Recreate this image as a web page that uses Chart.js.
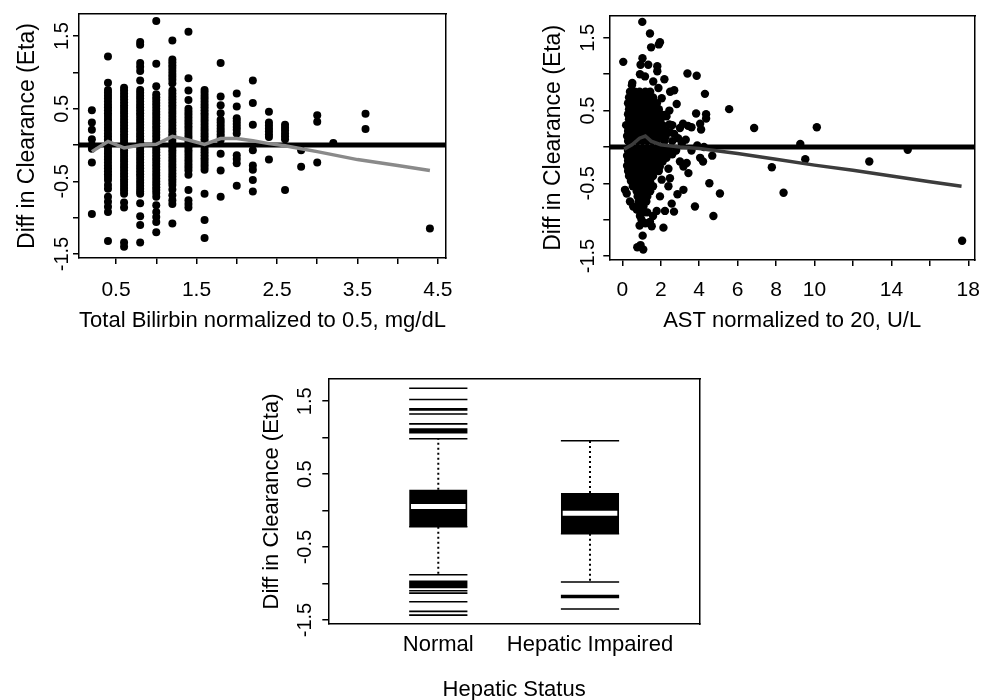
<!DOCTYPE html>
<html><head><meta charset="utf-8">
<script src="https://cdn.jsdelivr.net/npm/chart.js@4.4.0/dist/chart.umd.min.js"></script>
<style>
html,body{margin:0;padding:0;background:#fff;overflow:hidden;width:983px;height:700px;position:relative}
canvas{position:absolute;left:0;top:0}
</style></head><body>
<canvas id="c1" width="983" height="720"></canvas>
<canvas id="c2" width="983" height="720"></canvas>
<canvas id="c3" width="983" height="720"></canvas>
<script>
// ---------------- DATA ----------------
const Y_TITLE = 'Diff in Clearance (Eta)';
const ETA_TICKS = [-1.5, -1, -0.5, 0, 0.5, 1, 1.5];
const ETA_TICK_LABELS = ['-1.5', '', '-0.5', '', '0.5', '', '1.5'];

// Panel 1: Total bilirubin
const BILI_TITLE = 'Total Bilirbin normalized to 0.5, mg/dL';
const BILI_TICKS = [0.5, 1, 1.5, 2, 2.5, 3, 3.5, 4, 4.5];
const BILI_TICK_LABELS = ['0.5', '', '1.5', '', '2.5', '', '3.5', '', '4.5'];
const BILI_X = [0.2, 0.4, 0.6, 0.8, 1.0, 1.2, 1.4, 1.6, 1.8, 2.0, 2.2, 2.4, 2.6, 2.8, 3.0, 3.2, 3.6, 4.4];
const BILI_ETA = [
  [0.48,0.31,0.21,0.08,0.0,-0.05,-0.24,-0.95],
  [1.22,0.86,0.76,0.72,0.68,0.64,0.60,0.56,0.52,0.48,0.44,0.40,0.36,0.32,0.28,0.24,0.20,0.16,0.12,0.08,0.04,0.0,-0.04,-0.08,-0.12,-0.16,-0.20,-0.24,-0.28,-0.32,-0.36,-0.40,-0.44,-0.48,-0.55,-0.60,-0.71,-0.78,-0.85,-0.92,-1.32],
  [0.79,0.75,0.71,0.67,0.63,0.59,0.55,0.51,0.47,0.43,0.39,0.35,0.31,0.27,0.23,0.19,0.15,0.11,0.07,0.03,-0.03,-0.07,-0.11,-0.15,-0.19,-0.23,-0.27,-0.31,-0.35,-0.39,-0.43,-0.47,-0.51,-0.55,-0.59,-0.63,-0.67,-0.79,-0.86,-1.34,-1.40],
  [1.42,1.38,1.13,1.08,1.02,0.89,0.76,0.72,0.68,0.64,0.60,0.56,0.52,0.48,0.44,0.40,0.36,0.32,0.28,0.24,0.20,0.16,0.12,0.08,0.04,0.0,-0.04,-0.08,-0.12,-0.16,-0.20,-0.24,-0.28,-0.32,-0.36,-0.40,-0.44,-0.48,-0.52,-0.56,-0.60,-0.64,-0.67,-0.80,-0.98,-1.10,-1.34],
  [1.71,1.12,0.81,0.70,0.66,0.62,0.58,0.54,0.50,0.46,0.42,0.38,0.34,0.30,0.26,0.22,0.18,0.14,0.10,0.06,0.02,-0.02,-0.06,-0.10,-0.14,-0.18,-0.22,-0.26,-0.30,-0.34,-0.38,-0.42,-0.46,-0.50,-0.54,-0.58,-0.62,-0.66,-0.71,-0.83,-0.92,-0.99,-1.06,-1.20],
  [1.44,1.18,1.14,1.10,1.06,1.02,0.98,0.94,0.90,0.85,0.75,0.71,0.67,0.63,0.59,0.55,0.51,0.47,0.43,0.39,0.35,0.31,0.27,0.23,0.19,0.15,0.11,0.07,0.03,-0.03,-0.07,-0.11,-0.15,-0.19,-0.23,-0.27,-0.31,-0.35,-0.39,-0.43,-0.47,-0.51,-0.55,-0.61,-0.69,-0.76,-0.81,-1.08],
  [1.56,0.92,0.75,0.62,0.50,0.46,0.42,0.38,0.34,0.30,0.26,0.22,0.18,0.14,0.10,0.06,0.02,-0.03,-0.07,-0.11,-0.15,-0.19,-0.23,-0.27,-0.31,-0.35,-0.41,-0.62,-0.76,-0.81,-0.86],
  [0.76,0.72,0.68,0.64,0.60,0.56,0.52,0.48,0.44,0.40,0.36,0.32,0.28,0.24,0.20,0.16,0.12,0.08,0.04,-0.02,-0.06,-0.10,-0.14,-0.18,-0.22,-0.26,-0.30,-0.34,-0.67,-1.03,-1.28],
  [1.13,0.67,0.55,0.44,0.35,0.31,0.27,0.23,0.19,0.15,0.11,0.07,-0.12,-0.35,-0.71],
  [0.71,0.53,0.37,0.33,0.29,0.25,0.21,0.16,-0.14,-0.19,-0.25,-0.56],
  [0.89,0.58,0.28,-0.07,-0.28,-0.34,-0.48,-0.64],
  [0.46,0.31,0.27,0.23,0.19,0.15,0.11,-0.20],
  [0.28,0.24,0.20,0.16,0.12,0.08,-0.62],
  [-0.07,-0.30],
  [0.41,0.32,-0.24],
  [0.03],
  [0.43,0.22],
  [-1.15]
];
const BILI_SMOOTH_X = [0.2,0.4,0.6,0.8,1.0,1.2,1.4,1.6,1.8,2.0,2.2,2.4,2.6,2.8,3.0,3.5,4.0,4.4];
const BILI_SMOOTH_Y = [-0.09,0.05,-0.04,0.0,0.01,0.12,0.07,0.01,0.09,0.09,0.06,0.02,-0.01,-0.05,-0.09,-0.20,-0.28,-0.35];

// Panel 2: AST
const AST_TITLE = 'AST normalized to 20, U/L';
const AST_TICKS = [0, 2, 4, 6, 8, 10, 12, 14, 16, 18];
const AST_TICK_LABELS = ['0', '2', '4', '6', '8', '10', '', '14', '', '18'];
const AST_POINTS = [
  [0.5,0.85],
  [0.4,0.76],[0.65,0.76],[0.9,0.76],[1.2,0.76],[1.45,0.76],
  [0.35,0.68],[0.6,0.68],[0.85,0.68],[1.1,0.68],[1.35,0.68],[1.6,0.68],
  [0.3,0.6],[0.55,0.6],[0.8,0.6],[1.05,0.6],[1.3,0.6],[1.55,0.6],[1.8,0.6],
  [0.35,0.52],[0.6,0.52],[0.85,0.52],[1.1,0.52],[1.35,0.52],[1.6,0.52],[1.9,0.52],
  [0.3,0.45],[0.55,0.45],[0.8,0.45],[1.05,0.45],[1.3,0.45],[1.55,0.45],[1.75,0.45],[2.0,0.45],[2.2,0.44],
  [0.35,0.38],[0.6,0.38],[0.85,0.38],[1.1,0.38],[1.35,0.38],[1.6,0.38],[1.85,0.38],[2.0,0.38],
  [0.2,0.3],[0.45,0.3],[0.7,0.3],[0.95,0.3],[1.2,0.3],[1.45,0.3],[1.7,0.3],[1.95,0.3],[2.1,0.3],[2.45,0.31],
  [0.3,0.22],[0.55,0.22],[0.8,0.22],[1.05,0.22],[1.3,0.22],[1.55,0.22],[1.8,0.22],[2.05,0.22],[2.3,0.22],
  [0.25,0.15],[0.5,0.15],[0.75,0.15],[1.0,0.15],[1.25,0.15],[1.5,0.15],[1.75,0.15],[2.0,0.15],[2.25,0.14],
  [0.3,0.08],[0.55,0.08],[0.8,0.08],[1.05,0.08],[1.3,0.08],[1.55,0.08],[1.8,0.08],[2.2,0.08],[2.6,0.08],
  [0.3,-0.05],[0.55,-0.05],[0.8,-0.05],[1.05,-0.05],[1.3,-0.05],[1.55,-0.05],[1.8,-0.05],[2.1,-0.05],[2.4,-0.05],
  [0.25,-0.12],[0.5,-0.12],[0.75,-0.12],[1.0,-0.12],[1.25,-0.12],[1.5,-0.12],[1.75,-0.12],[2.0,-0.12],[2.25,-0.1],
  [0.3,-0.19],[0.55,-0.19],[0.8,-0.19],[1.05,-0.19],[1.3,-0.19],[1.55,-0.19],[1.8,-0.19],
  [0.25,-0.26],[0.5,-0.26],[0.75,-0.26],[1.0,-0.26],[1.25,-0.26],[1.5,-0.26],[1.7,-0.26],[1.95,-0.27],
  [0.3,-0.33],[0.55,-0.33],[0.8,-0.33],[1.05,-0.33],[1.3,-0.33],[1.55,-0.33],[1.9,-0.33],
  [0.35,-0.4],[0.6,-0.4],[0.85,-0.4],[1.1,-0.4],[1.35,-0.4],[1.6,-0.4],
  [0.45,-0.47],[0.7,-0.47],[0.95,-0.47],[1.2,-0.47],[1.45,-0.47],
  [0.55,-0.54],[0.8,-0.54],[1.05,-0.54],[1.3,-0.54],[1.6,-0.54],
  [0.75,-0.61],[1.0,-0.61],[1.2,-0.61],[1.45,-0.61],
  [0.8,-0.68],[1.05,-0.68],[1.3,-0.68],
  [0.85,-0.75],[1.1,-0.75],[1.25,-0.75],
  [0.9,-0.82],[1.1,-0.82],[0.95,-0.9],[1.15,-0.9],
  [0.05,1.17],[1.04,1.72],[1.44,1.56],[1.5,1.37],[1.96,1.44],[1.9,1.41],[1.05,1.22],[0.95,1.13],[1.35,1.13],
  [1.82,1.11],[1.82,1.04],[0.92,1.0],[1.18,0.97],[3.39,1.01],[3.87,0.98],[0.52,0.88],[1.61,0.9],[2.19,0.93],
  [1.88,0.81],[2.7,0.78],[2.49,0.76],[4.3,0.73],[2.05,0.67],[2.83,0.59],[5.56,0.52],[2.45,0.5],[3.84,0.46],
  [4.36,0.45],[4.36,0.39],[3.16,0.32],[3.42,0.29],[4.05,0.32],[6.86,0.26],[10.12,0.27],[2.3,0.42],[2.6,0.3],
  [3.0,0.26],[3.6,0.27],[4.1,0.24],[2.9,0.12],[3.3,0.1],[2.7,0.18],[2.5,0.2],[3.1,0.05],[4.25,0.0],[9.26,0.04],[3.9,0.02],
  [0.14,-0.59],[0.23,-0.64],[0.4,-0.75],[0.57,-0.82],[0.75,-0.86],[0.92,-0.95],[1.0,-1.0],[1.06,-1.22],
  [0.78,-1.38],[1.09,-1.41],[0.95,-1.35],[1.44,-1.03],[1.53,-1.09],[2.14,-1.11],[1.79,-0.88],[2.22,-0.88],
  [2.69,-0.89],[2.57,-0.78],[2.87,-0.65],[3.18,-0.59],[2.4,-0.54],[1.96,-0.68],[2.05,-0.45],[2.48,-0.43],
  [3.35,-0.22],[3.44,-0.36],[3.18,-0.27],[3.0,-0.2],[3.78,-0.82],[4.53,-0.5],[4.74,-0.95],[5.08,-0.64],
  [4.05,-0.15],[4.2,-0.2],[4.68,-0.12],[7.78,-0.28],[8.39,-0.63],[9.52,-0.17],[12.85,-0.2],[14.85,-0.04],
  [17.68,-1.29],[2.6,-0.1],[2.8,-0.05],[3.6,-0.05],[1.2,-1.05],[0.9,-1.08],[1.6,-0.95],[1.3,-0.9],
  [2.4,-0.3],[2.1,-0.2],[2.3,-0.15]
];
const AST_SMOOTH_X = [0.1,0.5,0.9,1.2,1.5,2.0,3.0,4.0,6.0,8.0,10.0,12.0,14.0,16.0,17.65];
const AST_SMOOTH_Y = [-0.03,0.03,0.12,0.15,0.08,0.03,0.0,-0.02,-0.09,-0.17,-0.25,-0.32,-0.40,-0.48,-0.54];

// Panel 3: boxplot by hepatic status
const GROUP_TITLE = 'Hepatic Status';
const GROUPS = ['Normal', 'Hepatic Impaired'];
const BOX_Q1 = [-0.22, -0.318];
const BOX_MEDIAN = [0.057, -0.035];
const BOX_Q3 = [0.286, 0.24];
const WHISKER_LOW = [-0.88, -0.98];
const WHISKER_HIGH = [0.986, 0.958];
const OUTLIERS = [
  [1.678,1.523,1.395,1.381,1.326,1.189,1.12,1.10,1.088,1.07,-0.971,-0.99,-1.01,-1.03,-1.053,-1.099,-1.131,-1.25,-1.382,-1.433],
  [-1.166,-1.19,-1.35]
];

// ---------------- AXIS LIMITS / LAYOUT ----------------
const Y_MIN = -1.555, Y_MAX = 1.805;
const BILI_MIN = 0.04, BILI_MAX = 4.6;
const AST_MIN = -0.676, AST_MAX = 18.35;
const GRP_MIN = 0.275, GRP_MAX = 2.725;
const BOX_HALF = 0.192, MED_HALF = 0.18;

const FAMILY = "'Liberation Sans', Arial, Helvetica, sans-serif";
const CW = 983, CH = 720;
const LAYOUT = {
  p1: {l:79, t:14, r:446, b:258, yTitleX:27.5, yTitleSize:23, yTickCX:62, yTickSize:20, xTickCY:290, xTickSize:21, xTitleY:321, xTitleSize:22, tickLen:6, xTickLen:6, dot:4.0},
  p2: {l:609.3, t:15.7, r:975, b:260, yTitleX:554, yTitleSize:23, yTickCX:588, yTickSize:20, xTickCY:290.5, xTickSize:21, xTitleY:321, xTitleSize:22, tickLen:6, xTickLen:6, dot:4.2},
  p3: {l:328.3, t:379, r:700, b:624, yTitleX:271.5, yTitleSize:22, yTickCX:305, yTickSize:20, xTickCY:645, xTickSize:22, xTitleY:690, xTitleSize:22, tickLen:6, xTickLen:0}
};

Chart.defaults.font.family = FAMILY;
Chart.defaults.color = '#000';

const mctx = document.createElement('canvas').getContext('2d');
function textW(t, size) { mctx.font = size + 'px ' + FAMILY; return mctx.measureText(t).width; }

function geom(L) {
  const widest = Math.max(...ETA_TICK_LABELS.map(s => textW(s, L.yTickSize)));
  const W = L.l - (L.yTitleX - L.yTitleSize * 0.6);
  const Hx = L.xTitleY + L.xTitleSize * 0.6 - L.b;
  return {
    W, Hx,
    padding: {left: L.l - W, top: L.t, right: CW - L.r, bottom: CH - L.b - Hx},
    yTickPad: L.l - L.tickLen - L.yTickCX - widest / 2,
    xTickPad: L.xTickCY - L.b - L.xTickLen - L.xTickSize * 0.6
  };
}

function yScale(L, G) {
  return {
    type: 'linear', position: 'left', min: Y_MIN, max: Y_MAX,
    afterBuildTicks: s => { s.ticks = ETA_TICKS.map(v => ({value: v})); },
    afterFit: s => { s.width = G.W; s.paddingTop = 0; s.paddingBottom = 0; },
    ticks: {autoSkip: false, minRotation: 90, maxRotation: 90, crossAlign: 'center', padding: G.yTickPad,
      font: {size: L.yTickSize}, color: '#000',
      callback: v => { const i = ETA_TICKS.indexOf(v); return i >= 0 ? ETA_TICK_LABELS[i] : ''; }},
    grid: {display: true, drawOnChartArea: false, drawTicks: true, tickLength: L.tickLen, tickWidth: 1.5, color: '#000', lineWidth: 1.5},
    border: {display: true, color: '#000', width: 1.5},
    title: {display: true, text: Y_TITLE, font: {size: L.yTitleSize}, color: '#000', padding: {top: 0, bottom: 0}}
  };
}
function xScale(L, G, min, max, ticks, labels, title) {
  return {
    type: 'linear', position: 'bottom', min, max,
    afterBuildTicks: s => { s.ticks = ticks.map(v => ({value: v})); },
    afterFit: s => { s.height = G.Hx; s.paddingLeft = 0; s.paddingRight = 0; },
    ticks: {autoSkip: false, maxRotation: 0, minRotation: 0, padding: G.xTickPad, font: {size: L.xTickSize}, color: '#000',
      callback: v => { const i = ticks.indexOf(v); return i >= 0 ? labels[i] : ''; }},
    grid: {display: L.xTickLen > 0, drawOnChartArea: false, drawTicks: L.xTickLen > 0, tickLength: L.xTickLen, tickWidth: 1.5, color: '#000', lineWidth: 1.5},
    border: {display: true, color: '#000', width: 1.5},
    title: {display: true, text: title, font: {size: L.xTitleSize}, color: '#000', padding: {top: 0, bottom: 0}}
  };
}
function frameScales() {
  return {
    x2: {type: 'linear', position: 'top', display: true, grid: {display: false, drawTicks: false}, ticks: {display: false},
      border: {display: true, color: '#000', width: 1.5}, afterFit: s => { s.height = 0; s.paddingLeft = 0; s.paddingRight = 0; }},
    y2: {type: 'linear', position: 'right', display: true, grid: {display: false, drawTicks: false}, ticks: {display: false},
      border: {display: true, color: '#000', width: 1.5}, afterFit: s => { s.width = 0; s.paddingTop = 0; s.paddingBottom = 0; }}
  };
}
function baseOptions(G, scales) {
  return {
    responsive: false, animation: false, events: [],
    layout: {padding: G.padding},
    plugins: {legend: {display: false}, tooltip: {enabled: false}, title: {display: false}},
    scales: Object.assign(scales, frameScales())
  };
}
function lineDs(data, color, width, order, extra) {
  return Object.assign({data, showLine: true, borderColor: color, borderWidth: width, pointRadius: 0,
    pointHoverRadius: 0, fill: false, order, spanGaps: false}, extra || {});
}

// ---------------- PANEL 1 ----------------
(function () {
  const L = LAYOUT.p1, G = geom(L);
  const pts = BILI_X.flatMap((x, i) => BILI_ETA[i].map(y => ({x, y})));
  const smooth = BILI_SMOOTH_X.map((x, i) => ({x, y: BILI_SMOOTH_Y[i]}));
  new Chart(document.getElementById('c1'), {
    type: 'scatter',
    data: {datasets: [
      {data: pts, pointRadius: L.dot, pointBackgroundColor: '#000', pointBorderWidth: 0, order: 3},
      lineDs([{x: BILI_MIN, y: 0}, {x: BILI_MAX, y: 0}], '#000', 5, 2),
      lineDs(smooth, '#8a8a8a', 3.5, 1)
    ]},
    options: baseOptions(G, {x: xScale(L, G, BILI_MIN, BILI_MAX, BILI_TICKS, BILI_TICK_LABELS, BILI_TITLE), y: yScale(L, G)})
  });
})();

// ---------------- PANEL 2 ----------------
(function () {
  const L = LAYOUT.p2, G = geom(L);
  const pts = AST_POINTS.map(([x, y]) => ({x, y}));
  const smooth = AST_SMOOTH_X.map((x, i) => ({x, y: AST_SMOOTH_Y[i]}));
  new Chart(document.getElementById('c2'), {
    type: 'scatter',
    data: {datasets: [
      {data: pts, pointRadius: L.dot, pointBackgroundColor: '#000', pointBorderWidth: 0, order: 3},
      lineDs([{x: AST_MIN, y: 0}, {x: AST_MAX, y: 0}], '#000', 5, 2),
      lineDs(smooth, '#3c3c3c', 3.5, 1)
    ]},
    options: baseOptions(G, {x: xScale(L, G, AST_MIN, AST_MAX, AST_TICKS, AST_TICK_LABELS, AST_TITLE), y: yScale(L, G)})
  });
})();

// ---------------- PANEL 3 ----------------
(function () {
  const L = LAYOUT.p3, G = geom(L);
  const ds = [];
  GROUPS.forEach((g, i) => {
    const c = i + 1;
    ds.push(lineDs([{x: c - BOX_HALF, y: BOX_Q1[i]}, {x: c + BOX_HALF, y: BOX_Q1[i]}], '#000', 1.5, 3,
      {fill: {value: BOX_Q3[i]}, backgroundColor: '#000'}));
    ds.push(lineDs([{x: c, y: BOX_Q3[i]}, {x: c, y: WHISKER_HIGH[i]}, {x: c, y: null}, {x: c, y: BOX_Q1[i]}, {x: c, y: WHISKER_LOW[i]}],
      '#000', 2, 4, {borderDash: [2, 3]}));
    ds.push(lineDs([{x: c - BOX_HALF, y: WHISKER_HIGH[i]}, {x: c + BOX_HALF, y: WHISKER_HIGH[i]}, {x: c, y: null},
      {x: c - BOX_HALF, y: WHISKER_LOW[i]}, {x: c + BOX_HALF, y: WHISKER_LOW[i]}], '#000', 1.5, 4));
    const seg = [];
    OUTLIERS[i].forEach(v => { seg.push({x: c - BOX_HALF, y: v}, {x: c + BOX_HALF, y: v}, {x: c, y: null}); });
    ds.push(lineDs(seg, '#000', 1.6, 4));
    ds.push(lineDs([{x: c - MED_HALF, y: BOX_MEDIAN[i]}, {x: c + MED_HALF, y: BOX_MEDIAN[i]}], '#fff', 5, 1));
  });
  new Chart(document.getElementById('c3'), {
    type: 'scatter',
    data: {datasets: ds},
    options: baseOptions(G, {x: xScale(L, G, GRP_MIN, GRP_MAX, [1, 2], GROUPS, GROUP_TITLE), y: yScale(L, G)})
  });
})();
</script>
</body></html>
